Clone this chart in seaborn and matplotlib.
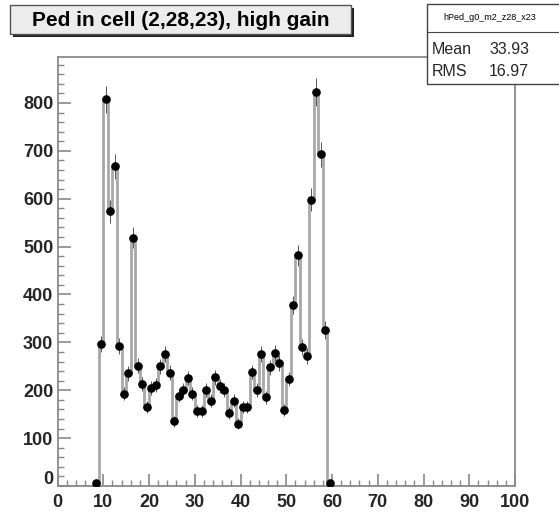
import numpy as np
import pandas as pd
import matplotlib
matplotlib.use("Agg")
import matplotlib.pyplot as plt
from matplotlib.patches import Rectangle
from matplotlib.ticker import MultipleLocator
from matplotlib.transforms import ScaledTranslation
import seaborn as sns

# Histogram contents: 100 unit-wide bins on [0, 100]; only bins 8..59 are filled
x_min, x_max = 0, 100
first_bin = 8
counts = [7, 297, 808, 574, 668, 293, 193, 235, 519, 251,
          214, 165, 205, 211, 250, 276, 237, 135, 189, 200,
          225, 193, 156, 156, 200, 178, 227, 209, 200, 153,
          178, 130, 165, 165, 238, 200, 276, 185, 248, 278,
          257, 158, 223, 378, 482, 290, 272, 598, 823, 693,
          326, 6]

title = "Ped in cell (2,28,23), high gain"
hist_name = "hPed_g0_m2_z28_x23"
stat_labels = ["Mean", "RMS"]
stat_values = ["33.93", "16.97"]
x_ticks = list(range(0, 101, 10))
y_ticks = list(range(0, 801, 100))
y_top = 896

counts = np.array(counts, dtype=float)
centers = first_bin + np.arange(len(counts)) + 0.5
df = pd.DataFrame({"x": centers, "n": counts})

sns.set_theme(style="white")
plt.rcParams["font.family"] = ["Liberation Sans", "DejaVu Sans"]

W, H = 559, 513
fig = plt.figure(figsize=(W / 100, H / 100), dpi=100)
fig.patch.set_facecolor("white")

def fx(px):
    return px / W

def fy(py):
    return 1 - py / H

ax = fig.add_axes([fx(57.5), fy(486), fx(515) - fx(57.5), fy(57) - fy(486)])

sns.histplot(data=df, x="x", weights="n", binwidth=1, binrange=(x_min, x_max),
             element="step", fill=False, color="#a8a8a8", linewidth=2.0, ax=ax)
ax.errorbar(df["x"], df["n"], yerr=np.sqrt(df["n"]), fmt="o", color="black",
            ms=5.2, elinewidth=0.7, ecolor="#555555", capsize=0, zorder=5)

ax.set_xlim(x_min, x_max)
ax.set_ylim(0, y_top)
ax.set_xlabel("")
ax.set_ylabel("")
ax.set_xticks(x_ticks)
ax.set_yticks(y_ticks)
ax.xaxis.set_minor_locator(MultipleLocator(2))
ax.yaxis.set_minor_locator(MultipleLocator(20))
ax.tick_params(axis="both", which="major", direction="in", length=9, width=1.2,
               color="#888888", labelsize=13)
ax.tick_params(axis="x", which="major", pad=6)
ax.tick_params(axis="y", which="major", pad=3)
ax.tick_params(axis="both", which="minor", direction="in", length=4, width=1.0,
               color="#888888")
ax.tick_params(bottom=True, left=True, top=False, right=False)
ax.tick_params(which="minor", bottom=True, left=True, top=False, right=False)
for lab in ax.get_xticklabels() + ax.get_yticklabels():
    lab.set_fontweight("bold")
# lift the y-axis zero label clear of the x-axis zero label
ylabs = ax.get_yticklabels()
ylabs[0].set_transform(ylabs[0].get_transform()
                       + ScaledTranslation(0, 6 / 72, fig.dpi_scale_trans))
for sp in ax.spines.values():
    sp.set_color("#8a8a8a")
    sp.set_linewidth(1.3)
ax.grid(False)

# Title box with drop shadow
bx0, by0, bx1, by1 = 10, 5, 351, 34
fig.add_artist(Rectangle((fx(bx0 + 3), fy(by1 + 3)), fx(bx1 - bx0), fy(by0) - fy(by1),
                         transform=fig.transFigure, facecolor="#222222",
                         edgecolor="none", zorder=10))
fig.add_artist(Rectangle((fx(bx0), fy(by1)), fx(bx1 - bx0), fy(by0) - fy(by1),
                         transform=fig.transFigure, facecolor="#ececec",
                         edgecolor="#555555", linewidth=1.0, zorder=11))
fig.text(fx((bx0 + bx1) / 2), fy((by0 + by1) / 2 + 1), title, ha="center", va="center",
         fontsize=15, fontweight="bold", color="black", zorder=12)

# Statistics box
sx0, sy0, sx1, sy1 = 427, 4, 562, 84
fig.add_artist(Rectangle((fx(sx0), fy(sy1)), fx(sx1 - sx0), fy(sy0) - fy(sy1),
                         transform=fig.transFigure, facecolor="white",
                         edgecolor="#444444", linewidth=1.0, zorder=10))
fig.add_artist(plt.Line2D([fx(sx0), fx(sx1)], [fy(32), fy(32)],
                          transform=fig.transFigure, color="#444444",
                          linewidth=0.8, zorder=11))
fig.text(fx(490), fy(18), hist_name, ha="center", va="center",
         fontsize=6.5, color="black", zorder=12)
for i, (lab, val) in enumerate(zip(stat_labels, stat_values)):
    yy = fy(49 + i * 23)
    fig.text(fx(432), yy, lab, ha="left", va="center", fontsize=11.5, zorder=12)
    fig.text(fx(529), yy, val, ha="right", va="center", fontsize=11.5, zorder=12)

fig.savefig("out.png", dpi=100)
